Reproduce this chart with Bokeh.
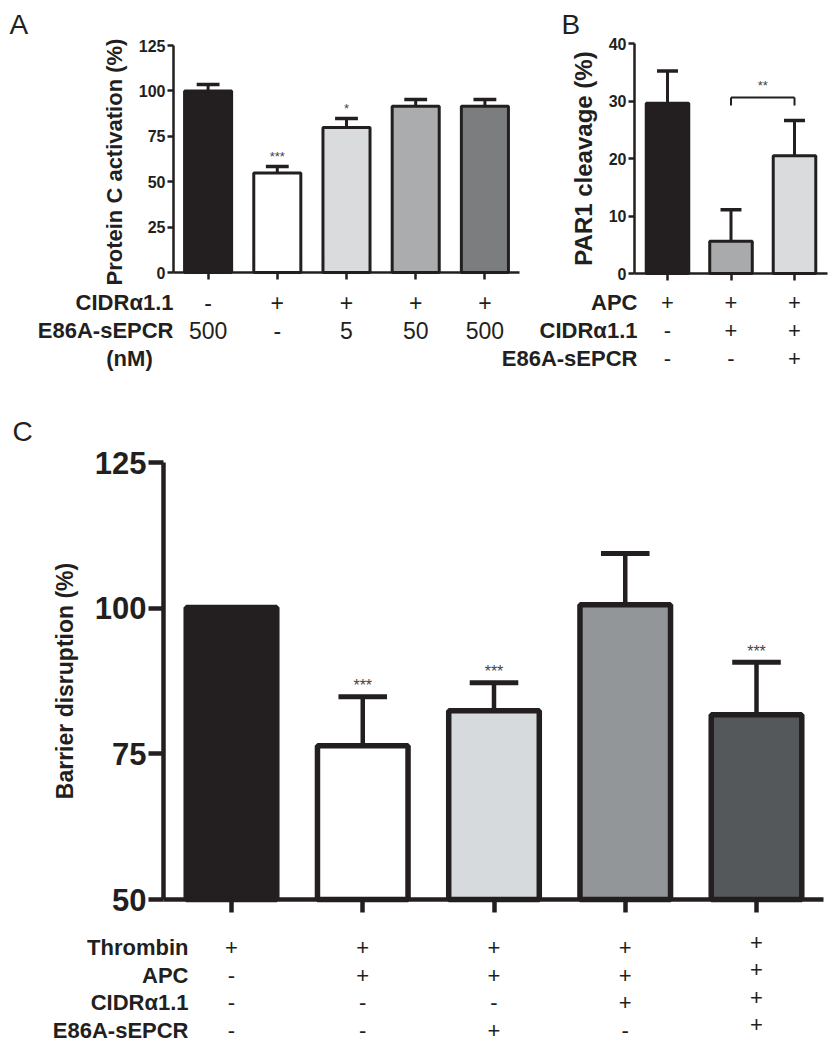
from bokeh.plotting import figure
from bokeh.models import Range1d, LinearAxis, FixedTicker, ColumnDataSource
from bokeh.embed import file_html
from bokeh.resources import INLINE
from bokeh.core.properties import value

# ---------------- data ----------------
# Panel A: Protein C activation
a_row_names = ["CIDRα1.1", "E86A-sEPCR"]
a_cidr = ["-", "+", "+", "+", "+"]
a_sepcr = ["500", "-", "5", "50", "500"]
a_unit = "(nM)"
a_mean = [100.0, 54.8, 79.8, 91.6, 91.6]
a_err = [3.5, 3.6, 5.0, 3.7, 3.7]
a_sig = ["", "***", "*", "", ""]
a_colors = ["#231f20", "#ffffff", "#d9dbdd", "#aaacae", "#7b7d7f"]
a_yticks = [0, 25, 50, 75, 100, 125]
a_ylabel = "Protein  C activation (%)"

# Panel B: PAR1 cleavage
b_row_names = ["APC", "CIDRα1.1", "E86A-sEPCR"]
b_apc = ["+", "+", "+"]
b_cidr = ["-", "+", "+"]
b_sepcr = ["-", "-", "+"]
b_mean = [29.6, 5.6, 20.5]
b_err = [5.6, 5.5, 6.1]
b_colors = ["#231f20", "#a8aaac", "#d9dbdd"]
b_yticks = [0, 10, 20, 30, 40]
b_ylabel = "PAR1 cleavage (%)"
b_bracket_pair = [2, 3]
b_bracket_level = 30.6
b_bracket_sig = "**"

# Panel C: Barrier disruption
c_row_names = ["Thrombin", "APC", "CIDRα1.1", "E86A-sEPCR"]
c_thrombin = ["+", "+", "+", "+", "+"]
c_apc = ["-", "+", "+", "+", "+"]
c_cidr = ["-", "-", "-", "+", "+"]
c_sepcr = ["-", "-", "+", "-", "+"]
c_mean = [100.1, 76.4, 82.4, 100.6, 81.7]
c_err = [0.0, 8.4, 4.8, 8.8, 9.0]
c_sig = ["", "***", "***", "", "***"]
c_colors = ["#231f20", "#ffffff", "#d7dadc", "#939698", "#55585a"]
c_yticks = [50, 75, 100, 125]
c_ylabel = "Barrier disruption (%)"

# ---------------- layout ----------------
W, H = 835, 1046
M = 0
INK = "#231f20"
FONT = "Liberation Sans"

ranges = {}


def set_ranges(name, xv0, xp0, xv1, xp1, yv_top, yp_top, yv_bot, yp_bot):
    sx = (xp1 - xp0) / (xv1 - xv0)
    xs = xv0 - (xp0 - M) / sx
    sy = (yp_bot - yp_top) / (yv_top - yv_bot)
    ye = yv_top + (yp_top - M) / sy
    ranges[name] = dict(x=Range1d(xs, xs + W / sx), y=Range1d(ye - H / sy, ye), sx=sx, sy=sy, xs=xs, ye=ye)


def px2x(name, px):
    r = ranges[name]
    return r["xs"] + (px - M) / r["sx"]


def py2y(name, py):
    r = ranges[name]
    return r["ye"] - (py - M) / r["sy"]


set_ranges("A", 0.5, 173, 5.5, 519, 125, 45, 0, 272)
set_ranges("B", 1, 667, 3, 794, 40, 43, 0, 273)
set_ranges("C", 1, 231, 5, 756, 125, 462, 50, 899)

p = figure(width=W, height=H, x_range=Range1d(0, 1), y_range=Range1d(0, 1),
           extra_x_ranges={k: v["x"] for k, v in ranges.items()},
           extra_y_ranges={k: v["y"] for k, v in ranges.items()},
           x_axis_location=None, y_axis_location=None, toolbar_location=None,
           output_backend="svg", min_border=0, outline_line_color=None,
           background_fill_color="white", border_fill_color="white")
p.grid.visible = False


def texts(name, xs, ys, labels, size, bold=False, align="center", xo=0, yo=0,
          color=INK, baseline="middle"):
    p.text(x=xs, y=ys, text=labels, x_range_name=name, y_range_name=name,
           text_font=value(FONT), text_font_size=size,
           text_font_style="bold" if bold else "normal", text_align=align,
           text_baseline=baseline, x_offset=xo, y_offset=yo, text_color=color)


def bars(name, means, errs, colors, base, bw, blw, elw, capw, star_labels, star_size, star_yo):
    n = len(means)
    xs = list(range(1, n + 1))
    src = ColumnDataSource(dict(x=xs, top=means, bottom=[base] * n, color=colors))
    p.vbar(x="x", top="top", bottom="bottom", width=bw, fill_color="color",
           line_color=INK, line_width=blw, source=src, x_range_name=name, y_range_name=name)
    ex = [x for x, e in zip(xs, errs) if e > 0]
    em = [m for m, e in zip(means, errs) if e > 0]
    et = [m + e for m, e in zip(means, errs) if e > 0]
    p.segment(x0=ex, y0=em, x1=ex, y1=et, line_width=elw, line_color=INK,
              x_range_name=name, y_range_name=name)
    p.segment(x0=[x - capw / 2 for x in ex], y0=et, x1=[x + capw / 2 for x in ex], y1=et,
              line_width=elw + 0.5, line_color=INK, x_range_name=name, y_range_name=name)
    sx = [x for x, s in zip(xs, star_labels) if s]
    sy = [m + e for m, e, s in zip(means, errs, star_labels) if s]
    st = [s for s in star_labels if s]
    if st:
        texts(name, sx, sy, st, star_size, yo=star_yo, color="#444444")


def axes(name, yfix, xbounds, ybounds, yticks, nx, label, alw, ytick_out, xtick_out,
         tick_size, label_size, label_standoff):
    ya = LinearAxis(x_range_name=name, y_range_name=name, fixed_location=yfix,
                    bounds=ybounds, ticker=FixedTicker(ticks=yticks), axis_label=label)
    ya.axis_line_width = alw
    ya.axis_line_color = INK
    ya.major_tick_line_width = alw
    ya.major_tick_line_color = INK
    ya.major_tick_out = ytick_out
    ya.major_tick_in = 0
    ya.minor_tick_line_color = None
    ya.major_label_standoff = 2
    ya.major_label_text_font = FONT
    ya.major_label_text_font_style = "bold"
    ya.major_label_text_font_size = tick_size
    ya.major_label_text_color = INK
    ya.axis_label_text_font = FONT
    ya.axis_label_text_font_style = "bold"
    ya.axis_label_text_font_size = label_size
    ya.axis_label_text_color = INK
    ya.axis_label_standoff = label_standoff
    p.add_layout(ya, "left")
    xt = list(range(1, nx + 1))
    xa = LinearAxis(x_range_name=name, y_range_name=name, fixed_location=ybounds[0],
                    bounds=xbounds, ticker=FixedTicker(ticks=xt))
    xa.axis_line_width = alw
    xa.axis_line_color = INK
    xa.major_tick_line_width = alw
    xa.major_tick_line_color = INK
    xa.major_tick_out = xtick_out
    xa.major_tick_in = 0
    xa.minor_tick_line_color = None
    xa.major_label_overrides = {t: "" for t in xt}
    xa.major_label_text_font_size = "0px"
    p.add_layout(xa, "below")


# ---- Panel A ----
bars("A", a_mean, a_err, a_colors, 0, 0.68, 3, 3, 0.33, a_sig, "13px", -10)
axes("A", 0.5, (0.5, 5.5), (0, 125), a_yticks, len(a_mean), a_ylabel, 2.5, 6, 7,
     "16px", "22px", 9)
xsA = list(range(1, len(a_mean) + 1))
rowsA = [py2y("A", 302), py2y("A", 330)]
texts("A", [0.5] * 2, rowsA, a_row_names, "22px", bold=True, align="right")
texts("A", xsA, [rowsA[0]] * 5, a_cidr, "23px")
texts("A", xsA, [rowsA[1]] * 5, a_sepcr, "23px")
texts("A", [px2x("A", 129)], [py2y("A", 358)], [a_unit], "22px", bold=True)
texts("A", [px2x("A", 9)], [py2y("A", 8)], ["A"], "28px", align="left", baseline="top")

# ---- Panel B ----
bars("B", b_mean, b_err, b_colors, 0, 0.67, 3, 3, 0.33, ["", "", ""], "13px", -10)
axes("B", 0.48, (0.48, 3.52), (0, 40), b_yticks, len(b_mean), b_ylabel, 2.5, 6, 7,
     "16px", "24px", 9)
xsB = list(range(1, len(b_mean) + 1))
rowsB = [py2y("B", 302), py2y("B", 330), py2y("B", 358)]
texts("B", [0.48] * 3, rowsB, b_row_names, "22px", bold=True, align="right", xo=3)
for ry, vals in zip(rowsB, [b_apc, b_cidr, b_sepcr]):
    texts("B", xsB, [ry] * 3, vals, "22px")
leg = b_bracket_level - 8 / ranges["B"]["sy"]
p.segment(x0=[b_bracket_pair[0], b_bracket_pair[0], b_bracket_pair[1]],
          y0=[b_bracket_level, b_bracket_level, b_bracket_level],
          x1=[b_bracket_pair[1], b_bracket_pair[0], b_bracket_pair[1]],
          y1=[b_bracket_level, leg, leg],
          line_width=2, line_color=INK, x_range_name="B", y_range_name="B")
texts("B", [sum(b_bracket_pair) / 2], [b_bracket_level], [b_bracket_sig], "13px",
      yo=-12, color="#444444")
texts("B", [px2x("B", 561)], [py2y("B", 8)], ["B"], "28px", align="left", baseline="top")

# ---- Panel C ----
bars("C", c_mean, c_err, c_colors, 50, 0.69, 5.5, 4.5, 0.37, c_sig, "16px", -11)
axes("C", 0.482, (0.482, 5.51), (50, 125), c_yticks, len(c_mean), c_ylabel, 4.5, 15, 13,
     "31px", "23px", 14)
xsC = list(range(1, len(c_mean) + 1))
rowsC = [py2y("C", v) for v in (947, 974.5, 1002, 1029.5)]
texts("C", [0.482] * 4, rowsC, c_row_names, "22px", bold=True, align="right", xo=25)
for ry, vals in zip(rowsC, [c_thrombin, c_apc, c_cidr, c_sepcr]):
    texts("C", xsC[:4], [ry] * 4, vals[:4], "22px")
    texts("C", xsC[4:], [ry], vals[4:], "22px", yo=-5.5)
texts("C", [px2x("C", 12)], [py2y("C", 415)], ["C"], "28px", align="left", baseline="top")

open("out.html", "w").write(file_html(p, INLINE))
